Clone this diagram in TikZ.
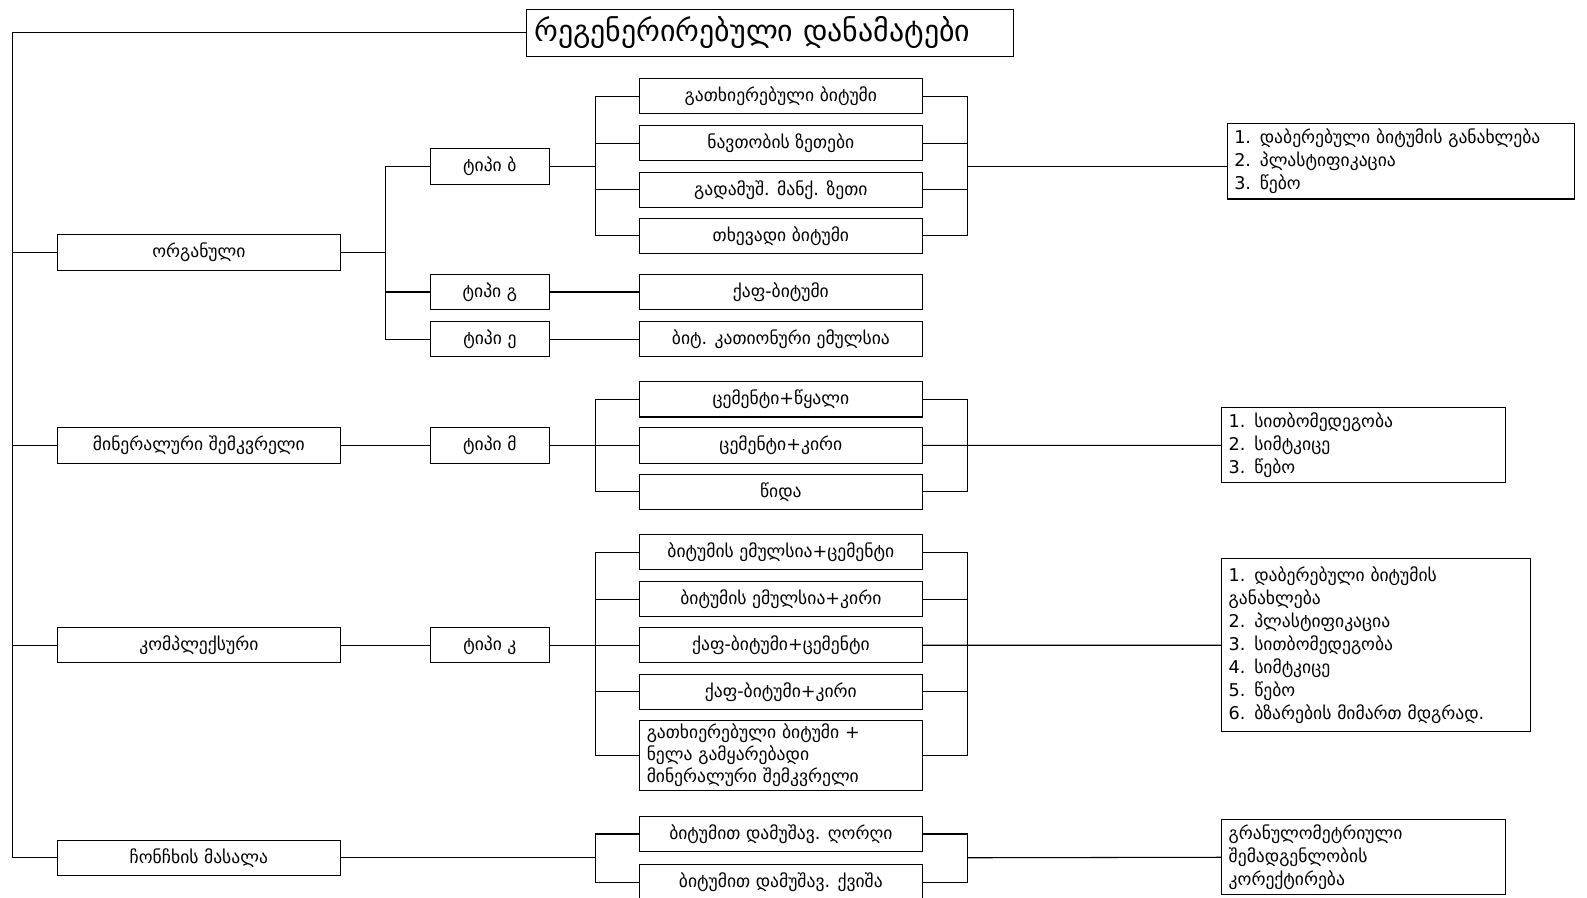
\documentclass[tikz,border=0pt]{standalone}
\usepackage{fontspec}
\setmainfont{DejaVu Sans}
\newcommand\pu{0.02024cm}
\begin{document}
\begin{tikzpicture}[x=0.02024cm,y=-0.02024cm,line width=0.6pt,
	box/.style={draw,minimum height=35*\pu,inner sep=1pt,font=\fontsize{10}{12.5}\selectfont},
	wide/.style={box,minimum width=279*\pu},
	tip/.style={box,minimum width=118*\pu},
	res/.style={draw,align=left,inner sep=3pt,font=\fontsize{10}{13}\selectfont}]
	\useasboundingbox (0,0) rectangle (1568,887);
	\node[box,minimum width=481*\pu,minimum height=47*\pu,text width=465*\pu,align=left,font=\fontsize{17}{20}\selectfont] (title) at (760.5,32.5) {რეგენერირებული დანამატები};
	% first column
	\node[wide] (org) at (196.5,249.5) {ორგანული};
	\node[wide] (min) at (196.5,440) {მინერალური შემკვრელი};
	\node[wide] (kom) at (196.5,637.5) {კომპლექსური};
	\node[wide] (chon) at (196.5,847.5) {ჩონჩხის მასალა};
	% types
	\node[tip] (tb) at (484,164.5) {ტიპი ბ};
	\node[tip] (tg) at (484,288.5) {ტიპი გ};
	\node[tip] (te) at (484,335) {ტიპი ე};
	\node[tip] (tm) at (484,440) {ტიპი მ};
	\node[tip] (tk) at (484,637.5) {ტიპი კ};
	% materials
	\node[wide] (b1) at (771.5,95) {გათხიერებული ბიტუმი};
	\node[wide] (b2) at (771.5,141.5) {ნავთობის ზეთები};
	\node[wide] (b3) at (771.5,187.5) {გადამუშ. მანქ. ზეთი};
	\node[wide] (b4) at (771.5,233) {თხევადი ბიტუმი};
	\node[wide] (g1) at (771.5,288.5) {ქაფ-ბიტუმი};
	\node[wide] (e1) at (771.5,335) {ბიტ. კათიონური ემულსია};
	\node[wide] (m1) at (771.5,394.5) {ცემენტი+წყალი};
	\node[wide] (m2) at (771.5,440) {ცემენტი+კირი};
	\node[wide] (m3) at (771.5,486) {წიდა};
	\node[wide] (k1) at (771.5,545.5) {ბიტუმის ემულსია+ცემენტი};
	\node[wide] (k2) at (771.5,592) {ბიტუმის ემულსია+კირი};
	\node[wide] (k3) at (771.5,637.5) {ქაფ-ბიტუმი+ცემენტი};
	\node[wide] (k4) at (771.5,683.5) {ქაფ-ბიტუმი+კირი};
	\node[wide,minimum height=69*\pu,text width=265*\pu,align=left] (k5) at (771.5,746.5) {გათხიერებული ბიტუმი +\\ნელა გამყარებადი\\მინერალური შემკვრელი};
	\node[wide] (d1) at (771.5,824) {ბიტუმით დამუშავ. ღორღი};
	\node[wide] (d2) at (771.5,872) {ბიტუმით დამუშავ. ქვიშა};
	% results
	\node[res,minimum width=343*\pu,minimum height=71*\pu,text width=330*\pu] (r1) at (1384.5,159.5) {1. დაბერებული ბიტუმის განახლება\\2. პლასტიფიკაცია\\3. წებო};
	\node[res,minimum width=280*\pu,minimum height=70*\pu,text width=266*\pu] (r2) at (1347,440) {1. სითბომედეგობა\\2. სიმტკიცე\\3. წებო};
	\node[res,minimum width=305*\pu,minimum height=171*\pu,text width=291*\pu] (r3) at (1359.5,637.5) {1. დაბერებული ბიტუმის\\განახლება\\2. პლასტიფიკაცია\\3. სითბომედეგობა\\4. სიმტკიცე\\5. წებო\\6. ბზარების მიმართ მდგრად.};
	\node[res,minimum width=280*\pu,minimum height=70*\pu,text width=266*\pu] (r4) at (1347,847) {გრანულომეტრიული\\შემადგენლობის\\კორექტირება};
	% spine
	\coordinate (spine) at (12,32.5);
	\draw (title.west) -- (spine) |- (chon.west);
	\foreach \n in {org,min,kom}
	\draw (\n.west) -- (\n.west -| spine);
	% organic branch
	\coordinate (ob) at (381,249.5);
	\draw (org.east) -- (ob);
	\draw (tb.west) -| (ob) |- (te.west);
	\draw (tg.west) -- (tg.west -| ob);
	\draw (min.east) -- (tm.west) (kom.east) -- (tk.west);
	\draw (tg.east) -- (g1.west) (te.east) -- (e1.west);
	% left buses
	\coordinate (lb) at (588,164.5);
	\coordinate (lm) at (588,440);
	\coordinate (lk) at (588,637.5);
	\coordinate (ld) at (588,847.5);
	\draw (tb.east) -- (lb);
	\draw (b1.west) -| (lb) |- (b4.west);
	\draw (m1.west) -| (lm) |- (m3.west);
	\draw (k1.west) -| (lk) |- (k5.west);
	\draw (d1.west) -| (ld) |- (d2.west);
	\foreach \n in {b2,b3,k2,k4}
	\draw (\n.west) -- (\n.west -| lb);
	\draw (tm.east) -- (m2.west) (tk.east) -- (k3.west) (chon.east) -- (ld);
	% right buses
	\coordinate (rb) at (956,164.5);
	\coordinate (rm) at (956,440);
	\coordinate (rk) at (956,637.5);
	\coordinate (rd) at (956,847.5);
	\draw (b1.east) -| (rb) |- (b4.east);
	\draw (m1.east) -| (rm) |- (m3.east);
	\draw (k1.east) -| (rk) |- (k5.east);
	\draw (d1.east) -| (rd) |- (d2.east);
	\foreach \n in {b2,b3,k2,k4}
	\draw (\n.east) -- (\n.east -| rb);
	\draw (rb) -- (rb -| r1.west);
	\draw (m2.east) -- (r2.west) (k3.east) -- (r3.west) (rd) -- (r4.west);
\end{tikzpicture}
\end{document}
